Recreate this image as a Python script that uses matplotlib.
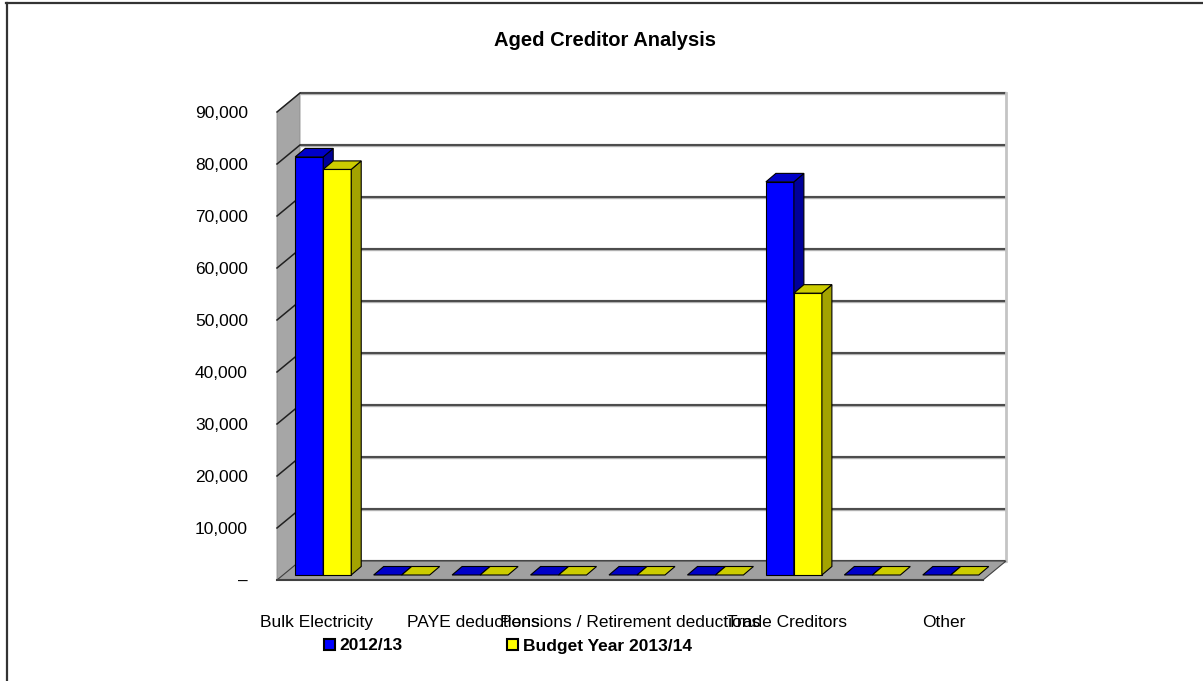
import matplotlib
matplotlib.use('Agg')
import matplotlib.pyplot as plt
from matplotlib.patches import Polygon, Patch
from matplotlib.lines import Line2D

# Creditor categories and amounts (R thousand)
categories = ['Bulk Electricity', 'Bulk Water', 'PAYE deductions', 'VAT (output less input)',
              'Pensions / Retirement deductions', 'Loan repayments', 'Trade Creditors',
              'Auditor General', 'Other']
prior_year = [80400, 0, 0, 0, 0, 0, 75600, 0, 0]
budget_year = [78000, 0, 0, 0, 0, 0, 54200, 0, 0]
series_names = ['2012/13', 'Budget Year 2013/14']
y_ticks = [0, 10000, 20000, 30000, 40000, 50000, 60000, 70000, 80000, 90000]

plt.rcParams['font.family'] = ['Liberation Sans', 'DejaVu Sans']

W, H = 1203, 681
fig = plt.figure(figsize=(W / 100, H / 100), dpi=100)
fig.patch.set_facecolor('white')

# axes = front plane of the 3d box
ax = fig.add_axes([277 / W, 101 / H, 706 / W, 468 / H])
n = len(categories)
ymax = y_ticks[-1]
ax.set_xlim(-0.5, n - 0.5)
ax.set_ylim(0, ymax)
for s in ax.spines.values():
    s.set_visible(False)
ax.patch.set_visible(False)

XS = 706 / n      # px per category
YS = 468 / ymax   # px per unit


def px(dx, dy):
    return dx / XS, dy / YS


bx, by = px(7, 5)        # bars sit a bit behind the front plane
ddx, ddy = px(10, 8.5)   # bar depth
wx, wy = px(23, 19)      # full box depth
bw = 28 / XS

x0, x1 = -0.5, n - 0.5

# back wall
ax.add_patch(Polygon([(x0 + wx, wy), (x1 + wx, wy), (x1 + wx, ymax + wy), (x0 + wx, ymax + wy)],
                     closed=True, facecolor='white', edgecolor='none', zorder=1, clip_on=False))
for v in y_ticks:
    ax.plot([x0 + wx, x1 + wx], [v + wy, v + wy], color='#b0b0b0', lw=2.4, zorder=2,
            clip_on=False, solid_capstyle='butt')
    ax.plot([x0 + wx, x1 + wx], [v + wy, v + wy], color='#303030', lw=1.1, zorder=2,
            clip_on=False, solid_capstyle='butt')
ax.plot([x1 + wx, x1 + wx], [wy, ymax + wy], color='#c4c4c4', lw=2, zorder=2, clip_on=False)

# side wall
ax.add_patch(Polygon([(x0, 0), (x0 + wx, wy), (x0 + wx, ymax + wy), (x0, ymax)],
                     closed=True, facecolor='#a6a6a6', edgecolor='#8c8c8c', lw=0.6,
                     zorder=3, clip_on=False))
for v in y_ticks[1:]:
    ax.plot([x0, x0 + wx], [v, v + wy], color='#202020', lw=1.1, zorder=3, clip_on=False)

# floor
ax.add_patch(Polygon([(x0, 0), (x1, 0), (x1 + wx, wy), (x0 + wx, wy)],
                     closed=True, facecolor='#a0a0a0', edgecolor='#404040', lw=0.8,
                     zorder=4, clip_on=False))
ax.plot([x0, x1], [0, 0], color='#404040', lw=1.5, zorder=4, clip_on=False)

# bars: front face from ax.bar, top and side faces as parallelograms
series = [(prior_year, '#0000ff', '#0000c8', '#000099', -1),
          (budget_year, '#ffff00', '#cccc00', '#a3a300', 0)]
z = 5
for i in range(n):
    for vals, front, top, side, shift in series:
        v = vals[i]
        left = i + bx + shift * bw
        right = left + bw
        if v > 0:
            ax.bar(left, v, width=bw, bottom=by, align='edge', color=front,
                   edgecolor='black', lw=0.8, zorder=z, clip_on=False)
            ax.add_patch(Polygon([(right, by), (right + ddx, by + ddy),
                                  (right + ddx, by + v + ddy), (right, by + v)],
                                 closed=True, facecolor=side, edgecolor='black', lw=0.8,
                                 zorder=z, clip_on=False))
        ax.add_patch(Polygon([(left, by + v), (right, by + v),
                              (right + ddx, by + v + ddy), (left + ddx, by + v + ddy)],
                             closed=True, facecolor=top, edgecolor='black', lw=0.8,
                             zorder=z, clip_on=False))
        z += 1

# axis labels
ax.set_yticks(y_ticks)
ax.set_yticklabels(['–' if v == 0 else f'{v:,}' for v in y_ticks], fontsize=12.5)
ax.tick_params(axis='y', length=0, pad=21)
ax.set_xticks(range(n))
ax.set_xticklabels([c if i % 2 == 0 else '' for i, c in enumerate(categories)], fontsize=12.5)
ax.tick_params(axis='x', length=0, pad=25)

fig.text(605 / W, 1 - 40 / H, 'Aged Creditor Analysis', ha='center', va='center',
         fontsize=14.5, fontweight='bold')

handles = [Patch(facecolor='#0000ff', edgecolor='black', lw=1.5),
           Patch(facecolor='#ffff00', edgecolor='black', lw=1.5)]
fig.legend(handles, series_names, loc='center', bbox_to_anchor=(508 / W, 1 - 646 / H),
           ncol=2, frameon=False, prop={'weight': 'bold', 'size': 12.5},
           handlelength=0.6, handleheight=0.6, handletextpad=0.3, columnspacing=6.0)

# outer frame (left and top edges only)
fig.add_artist(Line2D([6 / W, 1], [1 - 3 / H, 1 - 3 / H], color='#333333', lw=1.6,
                      transform=fig.transFigure))
fig.add_artist(Line2D([6.5 / W, 6.5 / W], [0, 1 - 3 / H], color='#333333', lw=1.6,
                      transform=fig.transFigure))

fig.savefig('out.png', dpi=100, facecolor='white')
